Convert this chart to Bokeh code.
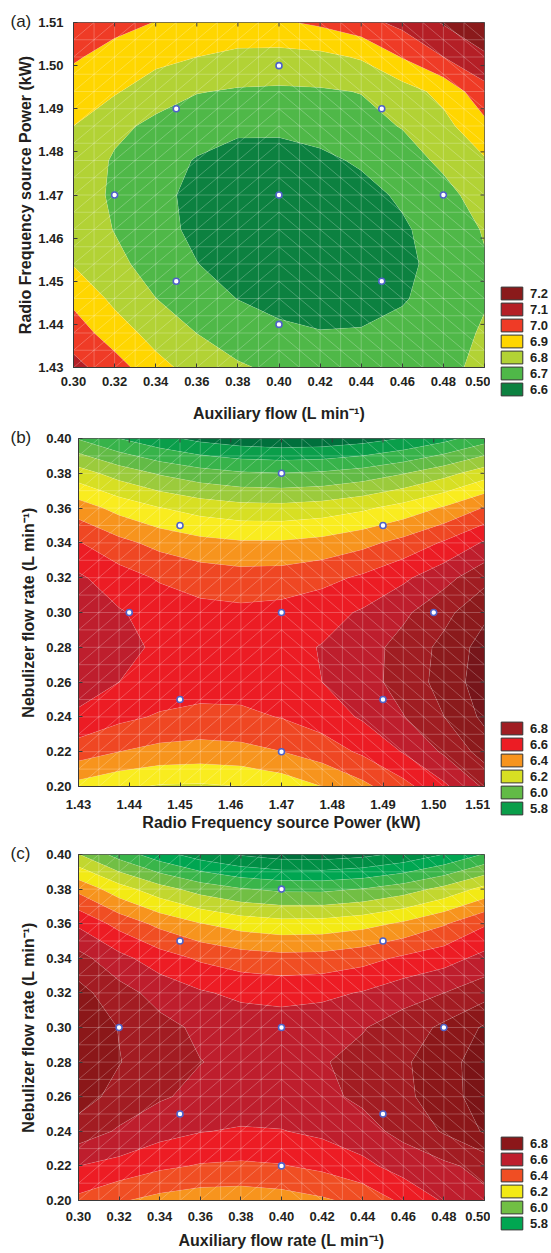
import numpy as np
from bokeh.plotting import figure
from bokeh.models import (Range1d, FixedTicker, PrintfTickFormatter,
                          Legend, LegendItem, Spacer)
from bokeh.layouts import column, row
from bokeh.embed import file_html
from bokeh.resources import INLINE

FONT = "Liberation Sans"
INK = "#231f20"

# ---------------- (a) Auxiliary flow  x  RF power ----------------
a_x = [0.30, 0.32, 0.34, 0.36, 0.38, 0.40, 0.42, 0.44, 0.46, 0.48, 0.50]
a_y = [1.430, 1.438, 1.446, 1.454, 1.462, 1.470, 1.478, 1.486, 1.494, 1.502, 1.510]
a_z = [
    [7.030, 6.946, 6.831, 6.763, 6.712, 6.680, 6.655, 6.642, 6.648, 6.675, 6.725],
    [6.954, 6.847, 6.765, 6.699, 6.651, 6.619, 6.604, 6.606, 6.624, 6.659, 6.711],
    [6.875, 6.778, 6.701, 6.641, 6.598, 6.572, 6.562, 6.570, 6.593, 6.634, 6.692],
    [6.795, 6.728, 6.656, 6.602, 6.564, 6.543, 6.539, 6.552, 6.581, 6.628, 6.691],
    [6.770, 6.696, 6.630, 6.581, 6.549, 6.534, 6.535, 6.553, 6.588, 6.640, 6.708],
    [6.761, 6.682, 6.622, 6.579, 6.552, 6.542, 6.549, 6.573, 6.613, 6.670, 6.744],
    [6.771, 6.688, 6.633, 6.595, 6.574, 6.570, 6.582, 6.611, 6.657, 6.720, 6.790],
    [6.800, 6.725, 6.677, 6.635, 6.614, 6.615, 6.633, 6.668, 6.705, 6.770, 6.875],
    [6.847, 6.810, 6.745, 6.705, 6.690, 6.686, 6.690, 6.703, 6.757, 6.830, 6.966],
    [6.913, 6.860, 6.830, 6.800, 6.775, 6.767, 6.775, 6.810, 6.905, 7.000, 7.080],
    [6.988, 6.934, 6.897, 6.877, 6.874, 6.887, 6.917, 6.964, 7.028, 7.108, 7.206],
]
a_levels = [6.6, 6.7, 6.8, 6.9, 7.0, 7.1]
a_colors = ["#0c8140", "#4fb848", "#b2d235", "#ffd600", "#ef3b26", "#b41f26", "#8a1a1b"]
a_legend = [7.2, 7.1, 7.0, 6.9, 6.8, 6.7, 6.6]
a_px = [0.40, 0.35, 0.45, 0.32, 0.40, 0.48, 0.35, 0.45, 0.40]
a_py = [1.50, 1.49, 1.49, 1.47, 1.47, 1.47, 1.45, 1.45, 1.44]
a_xticks = [0.30, 0.32, 0.34, 0.36, 0.38, 0.40, 0.42, 0.44, 0.46, 0.48, 0.50]
a_yticks = [1.43, 1.44, 1.45, 1.46, 1.47, 1.48, 1.49, 1.50, 1.51]

# ---------------- (b) RF power  x  Nebulizer flow ----------------
b_x = [1.430, 1.438, 1.446, 1.454, 1.462, 1.470, 1.478, 1.486, 1.494, 1.502, 1.510]
b_y = [0.20, 0.22, 0.24, 0.26, 0.28, 0.30, 0.32, 0.34, 0.36, 0.38, 0.40]
b_z = [
    [6.265, 6.220, 6.190, 6.185, 6.200, 6.240, 6.300, 6.375, 6.468, 6.581, 6.714],
    [6.449, 6.400, 6.370, 6.360, 6.370, 6.399, 6.448, 6.517, 6.606, 6.714, 6.842],
    [6.578, 6.524, 6.489, 6.474, 6.479, 6.504, 6.548, 6.612, 6.696, 6.799, 6.923],
    [6.659, 6.600, 6.561, 6.541, 6.541, 6.561, 6.600, 6.660, 6.739, 6.837, 6.956],
    [6.692, 6.628, 6.584, 6.560, 6.555, 6.570, 6.605, 6.659, 6.734, 6.827, 6.941],
    [6.678, 6.609, 6.561, 6.531, 6.522, 6.532, 6.562, 6.612, 6.681, 6.770, 6.879],
    [6.616, 6.543, 6.489, 6.455, 6.441, 6.446, 6.471, 6.516, 6.581, 6.665, 6.769],
    [6.507, 6.429, 6.370, 6.331, 6.312, 6.313, 6.333, 6.373, 6.433, 6.512, 6.612],
    [6.350, 6.267, 6.204, 6.160, 6.136, 6.132, 6.147, 6.183, 6.238, 6.312, 6.407],
    [6.145, 6.057, 5.989, 5.941, 5.912, 5.903, 5.914, 5.944, 5.995, 6.064, 6.154],
    [5.893, 5.800, 5.728, 5.674, 5.641, 5.627, 5.633, 5.659, 5.704, 5.769, 5.854],
]
b_levels = [5.7, 5.8, 5.9, 6.0, 6.1, 6.2, 6.3, 6.4, 6.5, 6.6, 6.7, 6.8, 6.9]
b_colors = ["#00703c", "#0a9e4a", "#37b34a", "#62bb46", "#9bcb3c", "#d7df23", "#f9ec1f",
            "#f7941d", "#ef4723", "#ec1c24", "#be1e2d", "#a01d22", "#8b1a1c", "#76151a"]
b_legend = [6.8, 6.6, 6.4, 6.2, 6.0, 5.8]
b_px = [1.47, 1.45, 1.49, 1.44, 1.47, 1.50, 1.45, 1.49, 1.47]
b_py = [0.38, 0.35, 0.35, 0.30, 0.30, 0.30, 0.25, 0.25, 0.22]
b_xticks = [1.43, 1.44, 1.45, 1.46, 1.47, 1.48, 1.49, 1.50, 1.51]
b_yticks = [0.20, 0.22, 0.24, 0.26, 0.28, 0.30, 0.32, 0.34, 0.36, 0.38, 0.40]

# ---------------- (c) Auxiliary flow  x  Nebulizer flow ----------------
c_x = [0.30, 0.32, 0.34, 0.36, 0.38, 0.40, 0.42, 0.44, 0.46, 0.48, 0.50]
c_y = [0.20, 0.22, 0.24, 0.26, 0.28, 0.30, 0.32, 0.34, 0.36, 0.38, 0.40]
c_z = [
    [6.376, 6.310, 6.268, 6.244, 6.240, 6.255, 6.285, 6.330, 6.420, 6.510, 6.575],
    [6.500, 6.468, 6.420, 6.392, 6.384, 6.394, 6.424, 6.473, 6.542, 6.580, 6.630],
    [6.658, 6.587, 6.536, 6.504, 6.490, 6.496, 6.521, 6.565, 6.628, 6.710, 6.811],
    [6.742, 6.667, 6.611, 6.575, 6.557, 6.558, 6.579, 6.618, 6.677, 6.754, 6.851],
    [6.784, 6.704, 6.643, 6.602, 6.580, 6.577, 6.593, 6.629, 6.685, 6.759, 6.853],
    [6.783, 6.696, 6.629, 6.582, 6.555, 6.548, 6.561, 6.594, 6.647, 6.720, 6.813],
    [6.734, 6.639, 6.564, 6.511, 6.479, 6.467, 6.477, 6.507, 6.559, 6.600, 6.660],
    [6.635, 6.530, 6.447, 6.386, 6.348, 6.332, 6.338, 6.366, 6.417, 6.460, 6.530],
    [6.482, 6.366, 6.273, 6.204, 6.158, 6.137, 6.140, 6.166, 6.216, 6.290, 6.388],
    [6.273, 6.143, 6.039, 5.960, 5.907, 5.880, 5.879, 5.903, 5.953, 6.029, 6.131],
    [6.004, 5.859, 5.741, 5.651, 5.590, 5.556, 5.551, 5.573, 5.623, 5.702, 5.808],
]
c_levels = [5.6, 5.7, 5.8, 5.9, 6.0, 6.1, 6.2, 6.3, 6.4, 6.5, 6.6, 6.7, 6.8, 6.9]
c_colors = ["#00703c", "#008f45", "#00a651", "#39b54a", "#71bf44", "#c2d72f", "#f3ea14",
            "#f7941d", "#f04e23", "#ed1c24", "#be1e2d", "#a21c22", "#8b1719", "#7a1416",
            "#6a1113"]
c_legend = [6.8, 6.6, 6.4, 6.2, 6.0, 5.8]
c_px = [0.40, 0.35, 0.45, 0.32, 0.40, 0.48, 0.35, 0.45, 0.40]
c_py = [0.38, 0.35, 0.35, 0.30, 0.30, 0.30, 0.25, 0.25, 0.22]
c_xticks = [0.30, 0.32, 0.34, 0.36, 0.38, 0.40, 0.42, 0.44, 0.46, 0.48, 0.50]
c_yticks = [0.20, 0.22, 0.24, 0.26, 0.28, 0.30, 0.32, 0.34, 0.36, 0.38, 0.40]

MAIN_W = 490          # main figure width (frame right edge at 484)
LEG_W = 551 - MAIN_W  # legend strip width
FRAME_RIGHT = 484
EDGE = "#3a3a3a"
ROW_H = 16            # legend row height (px)


def style_axis(ax, ticks, label_standoff, title_standoff, title):
    ax.ticker = FixedTicker(ticks=ticks)
    ax.formatter = PrintfTickFormatter(format="%.2f")
    ax.axis_line_color = EDGE
    ax.major_tick_line_color = EDGE
    ax.major_tick_in = 4
    ax.major_tick_out = 0
    ax.minor_tick_line_color = None
    ax.major_label_standoff = label_standoff
    ax.axis_label_standoff = title_standoff
    ax.major_label_text_font = FONT
    ax.major_label_text_font_style = "bold"
    ax.major_label_text_color = INK
    ax.major_label_text_font_size = "13px"
    ax.axis_label = title
    ax.axis_label_text_font = FONT
    ax.axis_label_text_font_style = "bold"
    ax.axis_label_text_font_size = "16px"
    ax.axis_label_text_color = INK


def panel(tag, xs, ys, z, levels, colors, legend_vals, px, py, xticks, yticks,
          xlabel, ylabel, height, left, top, bottom,
          xstd, xlstd, ystd, ylstd, leg_top):
    frame_w = FRAME_RIGHT - left
    frame_h = height - top - bottom
    p = figure(width=MAIN_W, height=height,
               x_range=Range1d(xs[0], xs[-1]), y_range=Range1d(ys[0], ys[-1]),
               output_backend="svg", toolbar_location=None,
               min_border_left=left, min_border_right=MAIN_W - FRAME_RIGHT,
               min_border_top=top, min_border_bottom=bottom)
    p.grid.visible = False
    p.outline_line_color = EDGE
    p.outline_line_width = 1

    # panel tag, "(a)" etc., set just left of the frame's top-left corner
    p.title.text = tag
    p.title.align = "left"
    p.title.offset = 10 - left
    p.title.standoff = -17
    p.title.text_font = FONT
    p.title.text_font_size = "17px"
    p.title.text_font_style = "normal"
    p.title.text_color = INK

    zz = np.array(z)
    full = [float(zz.min()) - 1.0] + list(levels) + [float(zz.max()) + 1.0]
    p.contour(x=xs, y=ys, z=zz, levels=full, fill_color=colors,
              line_color="white", line_alpha=0.22, line_width=0.6)

    # surface mesh (20 x 20 cells with diagonals, mirrored about the centre)
    n = 20
    gx = np.linspace(xs[0], xs[-1], n + 1)
    gy = np.linspace(ys[0], ys[-1], n + 1)
    sx0 = list(gx) + [xs[0]] * (n + 1)
    sy0 = [ys[0]] * (n + 1) + list(gy)
    sx1 = list(gx) + [xs[-1]] * (n + 1)
    sy1 = [ys[-1]] * (n + 1) + list(gy)
    X0, Y0 = np.meshgrid(gx[:-1], gy[:-1])
    X1, Y1 = np.meshgrid(gx[1:], gy[1:])
    left_half = (X0 + X1) / 2 < (xs[0] + xs[-1]) / 2
    d0 = np.where(left_half, Y0, Y1)
    d1 = np.where(left_half, Y1, Y0)
    sx0 += list(X0.ravel()); sy0 += list(d0.ravel())
    sx1 += list(X1.ravel()); sy1 += list(d1.ravel())
    p.segment(x0=sx0, y0=sy0, x1=sx1, y1=sy1, line_color="white",
              line_alpha=0.3, line_width=0.8)

    # inward ticks on the top and right edges
    tlx = 4 * (xs[-1] - xs[0]) / frame_w
    tly = 4 * (ys[-1] - ys[0]) / frame_h
    p.segment(x0=list(xticks), y0=[ys[-1]] * len(xticks),
              x1=list(xticks), y1=[ys[-1] - tly] * len(xticks),
              line_color=EDGE, line_width=1)
    p.segment(x0=[xs[-1]] * len(yticks), y0=list(yticks),
              x1=[xs[-1] - tlx] * len(yticks), y1=list(yticks),
              line_color=EDGE, line_width=1)

    p.scatter(px, py, marker="circle", size=6, fill_color="white",
              line_color="#4f62c8", line_width=1.6)

    style_axis(p.xaxis[0], xticks, xstd, xlstd, xlabel)
    style_axis(p.yaxis[0], yticks, ystd, ylstd, ylabel)

    # colour-scale legend in a small plot placed in a strip right of the panel
    leg_h = ROW_H * len(legend_vals) + 4
    q = figure(width=LEG_W, height=leg_h, x_range=Range1d(0, 1), y_range=Range1d(0, 1),
               output_backend="svg", toolbar_location=None,
               x_axis_location=None, y_axis_location=None,
               min_border_left=0, min_border_right=0, min_border_top=0,
               min_border_bottom=0)
    q.grid.visible = False
    q.outline_line_color = None
    items = []
    for val in legend_vals:
        k = sum(1 for t in levels if t < val - 1e-9)
        r = q.rect(x=[np.nan], y=[np.nan], width=1, height=1, fill_color=colors[k],
                   line_color="#333333", line_width=1)
        items.append(LegendItem(label="%.1f" % val, renderers=[r]))
    leg = Legend(items=items, location=(8, 2), orientation="vertical",
                 glyph_width=27, glyph_height=ROW_H, label_height=ROW_H,
                 label_standoff=5, spacing=0, padding=0, margin=0,
                 border_line_alpha=0, background_fill_alpha=0,
                 label_text_font=FONT, label_text_font_style="bold",
                 label_text_font_size="13px", label_text_color=INK)
    q.add_layout(leg)
    strip = column(Spacer(width=LEG_W, height=leg_top), q,
                   Spacer(width=LEG_W, height=height - leg_top - leg_h), spacing=0)
    return row(p, strip, spacing=0)


pa = panel("(a)", a_x, a_y, a_z, a_levels, a_colors, a_legend, a_px, a_py,
           a_xticks, a_yticks, "Auxiliary flow (L min\u207b\u00b9)",
           "Radio Frequency source Power (kW)",
           height=424, left=73, top=22, bottom=57,
           xstd=9, xlstd=16, ystd=10, ylstd=1, leg_top=283)

pb = panel("(b)", b_x, b_y, b_z, b_levels, b_colors, b_legend, b_px, b_py,
           b_xticks, b_yticks, "Radio Frequency source Power (kW)",
           "Nebulizer flow rate (L min\u207b\u00b9)",
           height=412, left=78, top=14, bottom=50,
           xstd=13, xlstd=2, ystd=7, ylstd=6, leg_top=294)

pc = panel("(c)", c_x, c_y, c_z, c_levels, c_colors, c_legend, c_px, c_py,
           c_xticks, c_yticks, "Auxiliary flow rate (L min\u207b\u00b9)",
           "Nebulizer flow rate (L min\u207b\u00b9)",
           height=417, left=78, top=18, bottom=53,
           xstd=11, xlstd=8, ystd=7, ylstd=6, leg_top=297)

layout = column(pa, pb, pc, spacing=0)
open("out.html", "w").write(file_html(layout, INLINE, "Contour plots"))
